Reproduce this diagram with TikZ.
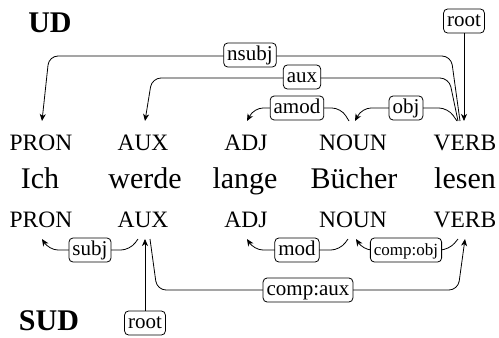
\documentclass[tikz,border=0pt]{standalone}
\usepackage{fontspec}
\setmainfont{Liberation Serif}
\usetikzlibrary{arrows.meta}
\begin{document}
\begin{tikzpicture}[x=1pt,y=-1pt,
 postag/.style={font=\fontsize{23.5}{24}\selectfont, inner sep=0pt, anchor=base},
 word/.style={font=\fontsize{30}{30}\selectfont, inner sep=0pt, anchor=base},
 ttl/.style={font=\fontsize{30}{30}\selectfont\bfseries, inner sep=0pt, anchor=base},
 lab/.style={draw, fill=white, rounded corners=4pt, line width=0.8pt, font=\fontsize{21}{21}\selectfont, inner xsep=3.5pt, inner ysep=2.5pt, text height=14.5pt, text depth=4.5pt},
 smalllab/.style={lab, font=\fontsize{17}{17}\selectfont},
 dep/.style={line width=0.8pt, rounded corners=9pt, -{Stealth[length=7pt,width=6pt,inset=2pt]}},
]
\useasboundingbox (0,0) rectangle (499,338);
% titles
\node[ttl] (ud) at (50,32) {UD};
\node[ttl] (sud) at (49,330) {SUD};
% upper POS
\node[postag] (t1) at (41,150) {PRON};
\node[postag] (t2) at (143,150) {AUX};
\node[postag] (t3) at (246,150) {ADJ};
\node[postag] (t4) at (353,150) {NOUN};
\node[postag] (t5) at (465,150) {VERB};
% words
\node[word] (w1) at (40,188) {Ich};
\node[word] (w2) at (145,188) {werde};
\node[word] (w3) at (245,188) {lange};
\node[word] (w4) at (354,188) {Bücher};
\node[word] (w5) at (465,188) {lesen};
% lower POS
\node[postag] (b1) at (41,227) {PRON};
\node[postag] (b2) at (143,227) {AUX};
\node[postag] (b3) at (246,227) {ADJ};
\node[postag] (b4) at (353,227) {NOUN};
\node[postag] (b5) at (465,227) {VERB};
% attachment points (UD)
\coordinate (t1in) at (42,121);
\coordinate (t2in) at (145,121);
\coordinate (t3in) at (247,121);
\coordinate (t4in) at (355,121);
\coordinate (t4out) at (349,121);
\coordinate (t5a) at (460,121);
\coordinate (t5b) at (458,121);
\coordinate (t5c) at (457,121);
\coordinate (t5root) at (464,121);
% attachment points (SUD)
\coordinate (b1in) at (42,239);
\coordinate (b2a) at (138,239);
\coordinate (b2b) at (150,239);
\coordinate (b2root) at (145,239);
\coordinate (b3in) at (247,239);
\coordinate (b4out) at (348,239);
\coordinate (b4in) at (356,239);
\coordinate (b5out) at (458,239);
\coordinate (b5in) at (465,239);
% UD edges
\draw[dep] (t5a) -- (451,56) -- (49,56) -- (t1in);
\draw[dep] (t5b) -- (449,78) -- (152,78) -- (t2in);
\draw[dep] (t4out) -- (341,108) -- (254,108) -- (t3in);
\draw[dep] (t5c) -- (448,108) -- (362,108) -- (t4in);
\node[lab] (lnsubj) at (250,55) {nsubj};
\node[lab] (laux) at (302,77) {aux};
\node[lab] (lamod) at (297,108) {amod};
\node[lab] (lobj) at (406,108) {obj};
\node[lab] (lroot1) at (464,21) {root};
\draw[dep, rounded corners=0pt] (lroot1.south) -- (t5root);
% SUD edges
\draw[dep] (b2a) -- (130,250) -- (49,250) -- (b1in);
\draw[dep] (b4out) -- (340,250) -- (254,250) -- (b3in);
\draw[dep] (b5out) -- (449,250) -- (363,250) -- (b4in);
\draw[dep] (b2b) -- (157,290) -- (458,290) -- (b5in);
\node[lab] (lsubj) at (90,250) {subj};
\node[lab] (lmod) at (297,250) {mod};
\node[smalllab] (lcompobj) at (406,250) {comp:obj};
\node[lab] (lcompaux) at (308,290) {comp:aux};
\node[lab] (lroot2) at (145,323) {root};
\draw[dep, rounded corners=0pt] (lroot2.north) -- (b2root);
\end{tikzpicture}
\end{document}
